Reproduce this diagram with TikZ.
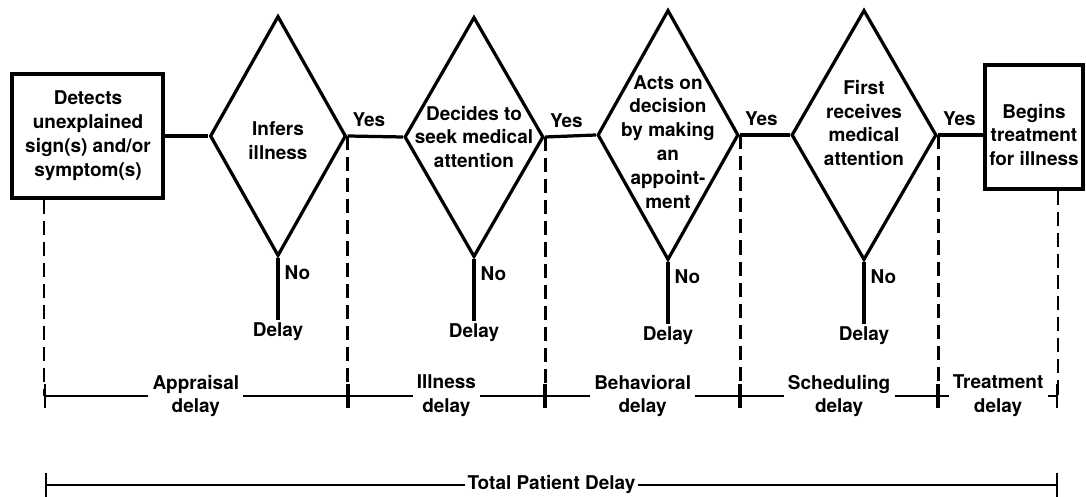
\documentclass[tikz,border=0pt]{standalone}
\usepackage{fontspec}
\setmainfont{TeX Gyre Heros}
\usetikzlibrary{shapes.geometric, arrows.meta, positioning}
\tikzstyle{stage} = [rectangle, draw=black, line width=2.3pt, minimum height=3.1cm, inner sep=0pt]
\tikzstyle{decision} = [diamond, draw=black, line width=2.3pt, inner sep=0pt]
\tikzstyle{txt} = [align=center, inner sep=2pt, font=\bfseries\fontsize{13.5}{17}\selectfont]
\tikzstyle{link} = [line width=2.3pt]
\tikzstyle{stem} = [line width=3.5pt]
\tikzstyle{guide} = [line width=2.1pt, dash pattern=on 10pt off 5pt]
\tikzstyle{span} = [line width=1.4pt, {Bar[width=17pt]}-{Bar[width=17pt]}]
\tikzstyle{gap} = [txt, fill=white, inner xsep=3pt]

\begin{document}
\begin{tikzpicture}[x=0.025cm, y=-0.025cm]
\useasboundingbox (0,0) rectangle (1086,497);

% shapes along the top row
\node (detect) [stage, minimum width=3.775cm] at (87.5,136) {};
\node (infer) [decision, minimum width=3.4cm, minimum height=6cm] at (278,136) {};
\node (seek) [decision, minimum width=3.475cm, minimum height=6cm] at (474,137) {};
\node (act) [decision, minimum width=3.525cm, minimum height=6.25cm] at (668,135) {};
\node (receive) [decision, minimum width=3.625cm, minimum height=6.25cm] at (864,135) {};
\node (treat) [stage, minimum width=2.45cm] at (1034,127) {};

% their texts
\node (detect-text) [txt] at (88,136) {Detects\\unexplained\\sign(s) and/or\\symptom(s)};
\node (infer-text) [txt] at (278,141) {Infers\\illness};
\node (seek-text) [txt] at (474,137) {Decides to\\seek medical\\attention};
\node (act-text) [txt] at (668,142) {Acts on\\decision\\by making\\an\\appoint-\\ment};
\node (receive-text) [txt] at (864,123) {First\\receives\\medical\\attention};
\node (treat-text) [txt] at (1034,135) {Begins\\treatment\\for illness};

\draw [link] (detect.east) -- (detect.east -| infer.west);
\draw [link] (infer.east) -- (seek.west);
\draw [link] (seek.east) -- (act.west);
\draw [link] (act.east) -- (receive.west);
\draw [link] (receive.east) -- (receive.east -| treat.west);

\node (yes1) [txt, above right=1.5mm and 0.5mm of infer.east] {Yes};
\node (yes2) [txt, above right=1.5mm and 0.5mm of seek.east] {Yes};
\node (yes3) [txt, above right=1.5mm and 0.5mm of act.east] {Yes};
\node (yes4) [txt, above right=1.5mm and 0.5mm of receive.east] {Yes};

% the No branches
\node (delay1) [txt, below=1.55cm of infer.south] {Delay};
\node (delay2) [txt, below=1.55cm of seek.south] {Delay};
\node (delay3) [txt, below=1.55cm of act.south] {Delay};
\node (delay4) [txt, below=1.55cm of receive.south] {Delay};
\draw [stem] (infer.south) -- node[txt, near start, right=1pt] (no1) {No} (delay1.north);
\draw [stem] (seek.south) -- node[txt, near start, right=1pt] (no2) {No} (delay2.north);
\draw [stem] (act.south) -- node[txt, near start, right=1pt] (no3) {No} (delay3.north);
\draw [stem] (receive.south) -- node[txt, near start, right=1pt] (no4) {No} (delay4.north);

% interval marks
\coordinate (t0) at (44,396);
\coordinate (t1) at (infer.east |- t0);
\coordinate (t2) at (seek.east |- t0);
\coordinate (t3) at (act.east |- t0);
\coordinate (t4) at (receive.east |- t0);
\coordinate (t5) at (1058,396);

\draw [guide] (t0 |- detect.south) -- (t0);
\draw [guide] (infer.east) -- (t1);
\draw [guide] (seek.east) -- (t2);
\draw [guide] (act.east) -- (t3);
\draw [guide] (receive.east) -- (t4);
\draw [guide] (t5 |- treat.south) -- (t5);

\draw [span] (t0) -- node[gap] (appraisal) {Appraisal\\delay} (t1);
\draw [span] (t1) -- node[gap] (illness) {Illness\\delay} (t2);
\draw [span] (t2) -- node[gap] (behavioral) {Behavioral\\delay} (t3);
\draw [span] (t3) -- node[gap] (scheduling) {Scheduling\\delay} (t4);
\draw [span] (t4) -- node[gap] (treatment) {Treatment\\delay} (t5);

% whole span
\coordinate (total0) at (45,485);
\coordinate (total1) at (1058,485);
\draw [span] (total0) -- node[gap, inner xsep=1.5pt] (total) {Total Patient Delay} (total1);
\end{tikzpicture}
\end{document}
